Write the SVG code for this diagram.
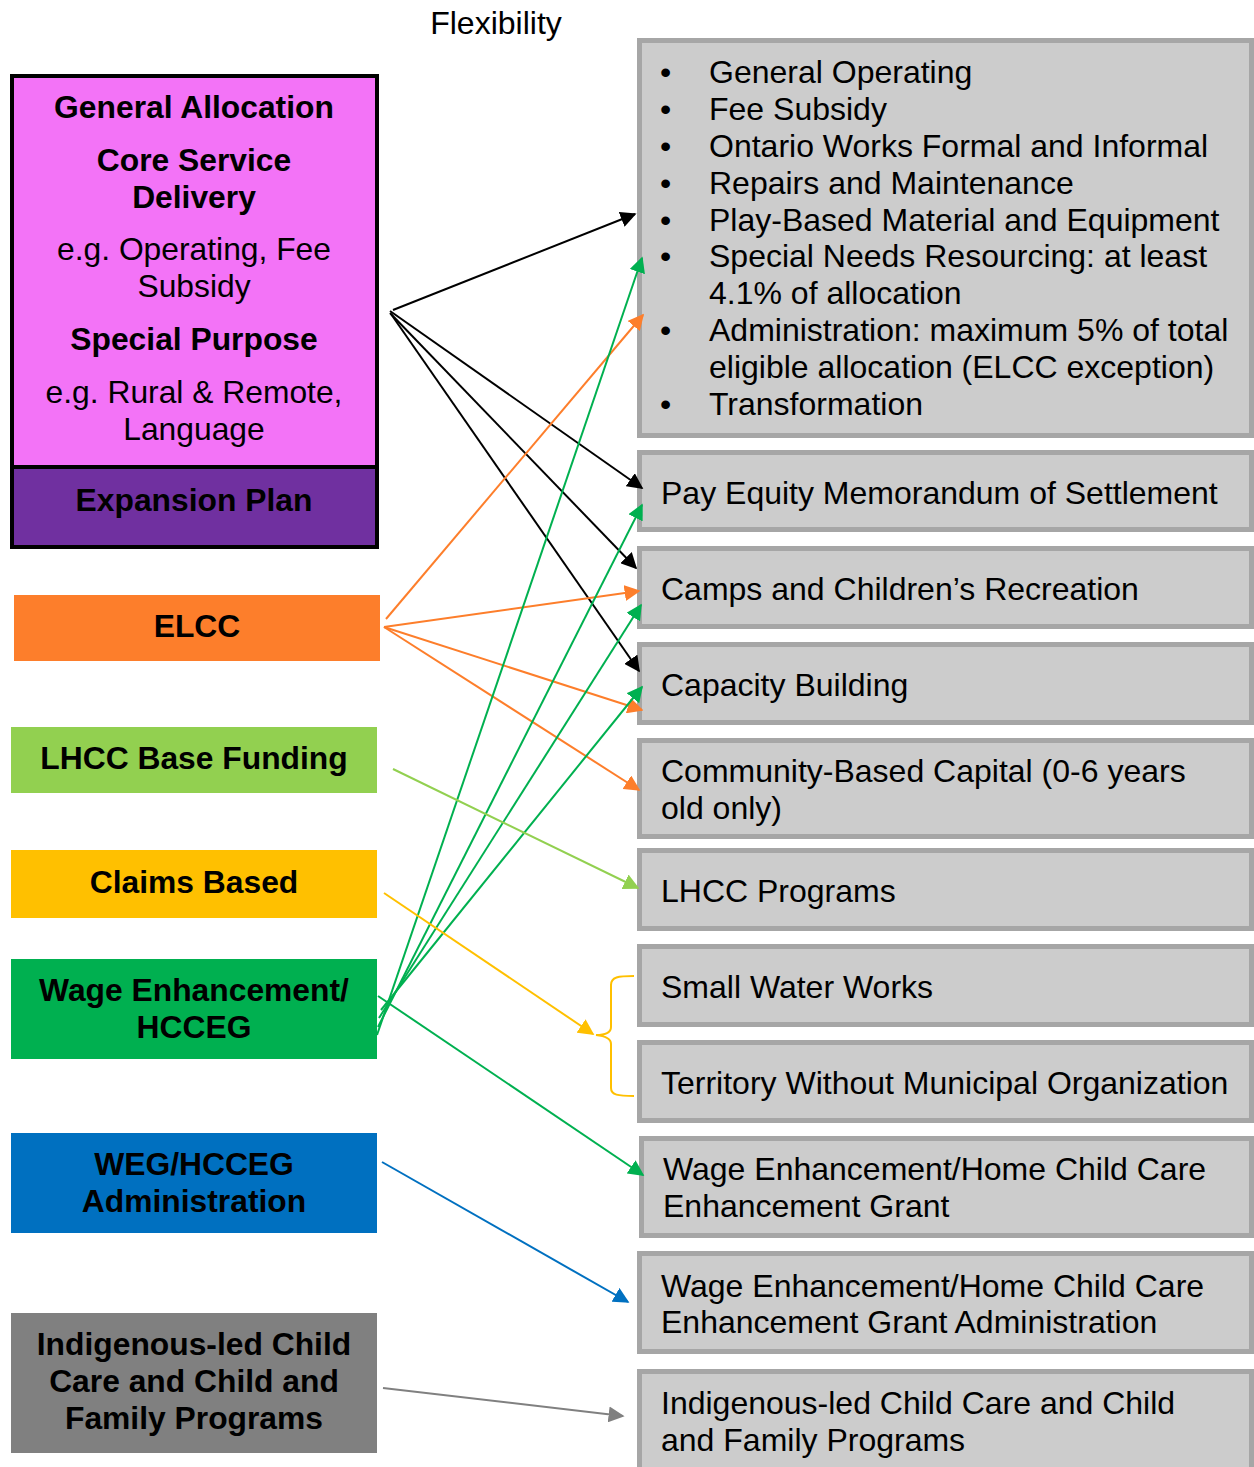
<svg xmlns="http://www.w3.org/2000/svg" width="1254" height="1467" viewBox="0 0 1254 1467">
<defs>
<style>
.b{font-family:"Liberation Sans",Arial,sans-serif;font-weight:bold;font-size:31.8px;fill:#000;text-anchor:middle}
.r{font-family:"Liberation Sans",Arial,sans-serif;font-size:31.8px;fill:#000;text-anchor:middle}
.t{font-family:"Liberation Sans",Arial,sans-serif;font-size:32px;fill:#000}
.box{fill:#cccccc;stroke:#a6a6a6;stroke-width:5}
.c{fill:none;stroke-width:2}
</style>
<marker id="mk" viewBox="0 0 10 10" refX="9" refY="5" markerWidth="8" markerHeight="8" orient="auto"><path d="M0,0 L10,5 L0,10 Z" fill="#000"/></marker>
<marker id="mo" viewBox="0 0 10 10" refX="9" refY="5" markerWidth="8" markerHeight="8" orient="auto"><path d="M0,0 L10,5 L0,10 Z" fill="#fd7e2b"/></marker>
<marker id="mg" viewBox="0 0 10 10" refX="9" refY="5" markerWidth="8" markerHeight="8" orient="auto"><path d="M0,0 L10,5 L0,10 Z" fill="#00b050"/></marker>
<marker id="ml" viewBox="0 0 10 10" refX="9" refY="5" markerWidth="8" markerHeight="8" orient="auto"><path d="M0,0 L10,5 L0,10 Z" fill="#92d050"/></marker>
<marker id="my" viewBox="0 0 10 10" refX="9" refY="5" markerWidth="8" markerHeight="8" orient="auto"><path d="M0,0 L10,5 L0,10 Z" fill="#ffc000"/></marker>
<marker id="mb" viewBox="0 0 10 10" refX="9" refY="5" markerWidth="8" markerHeight="8" orient="auto"><path d="M0,0 L10,5 L0,10 Z" fill="#0070c0"/></marker>
<marker id="mgr" viewBox="0 0 10 10" refX="9" refY="5" markerWidth="8" markerHeight="8" orient="auto"><path d="M0,0 L10,5 L0,10 Z" fill="#808080"/></marker>
</defs>
<rect width="1254" height="1467" fill="#fff"/>
<text x="496" y="34" font-family="Liberation Sans, Arial, sans-serif" font-size="32" text-anchor="middle">Flexibility</text>

<g id="general-allocation">
<rect x="12" y="76" width="365" height="391" fill="#f373f7" stroke="#000" stroke-width="4"/>
<text class="b" x="194" y="118">General Allocation</text>
<text class="b" x="194" y="171">Core Service</text>
<text class="b" x="194" y="208">Delivery</text>
<text class="r" x="194" y="260">e.g. Operating, Fee</text>
<text class="r" x="194" y="297">Subsidy</text>
<text class="b" x="194" y="350">Special Purpose</text>
<text class="r" x="194" y="403">e.g. Rural &amp; Remote,</text>
<text class="r" x="194" y="440">Language</text>
</g>
<g id="expansion-plan">
<rect x="12" y="467" width="365" height="80" fill="#7030a0" stroke="#000" stroke-width="4"/>
<text class="b" x="194" y="511">Expansion Plan</text>
</g>
<g id="elcc">
<rect x="14" y="595" width="366" height="66" fill="#fd7e2b"/>
<text class="b" x="197" y="637">ELCC</text>
</g>
<g id="lhcc-base">
<rect x="11" y="727" width="366" height="66" fill="#92d050"/>
<text class="b" x="194" y="769">LHCC Base Funding</text>
</g>
<g id="claims">
<rect x="11" y="850" width="366" height="68" fill="#ffc000"/>
<text class="b" x="194" y="893">Claims Based</text>
</g>
<g id="wage-enh">
<rect x="11" y="959" width="366" height="100" fill="#00b050"/>
<text class="b" x="194" y="1001">Wage Enhancement/</text>
<text class="b" x="194" y="1038">HCCEG</text>
</g>
<g id="weg-admin">
<rect x="11" y="1133" width="366" height="100" fill="#0070c0"/>
<text class="b" x="194" y="1175">WEG/HCCEG</text>
<text class="b" x="194" y="1212">Administration</text>
</g>
<g id="indigenous">
<rect x="11" y="1313" width="366" height="140" fill="#808080"/>
<text class="b" x="194" y="1355">Indigenous-led Child</text>
<text class="b" x="194" y="1392">Care and Child and</text>
<text class="b" x="194" y="1429">Family Programs</text>
</g>

<g id="flexible-list">
<rect class="box" x="639.5" y="40.5" width="612" height="395"/>
<g class="t">
<text x="660" y="83">•</text><text x="709" y="83">General Operating</text>
<text x="660" y="120">•</text><text x="709" y="120">Fee Subsidy</text>
<text x="660" y="157">•</text><text x="709" y="157">Ontario Works Formal and Informal</text>
<text x="660" y="194">•</text><text x="709" y="194">Repairs and Maintenance</text>
<text x="660" y="231">•</text><text x="709" y="231">Play-Based Material and Equipment</text>
<text x="660" y="267">•</text><text x="709" y="267">Special Needs Resourcing: at least</text>
<text x="709" y="304">4.1% of allocation</text>
<text x="660" y="341">•</text><text x="709" y="341">Administration: maximum 5% of total</text>
<text x="709" y="378">eligible allocation (ELCC exception)</text>
<text x="660" y="415">•</text><text x="709" y="415">Transformation</text>
</g>
</g>
<g id="pay-equity">
<rect class="box" x="639.5" y="452.5" width="612" height="77"/>
<text class="t" x="661" y="504">Pay Equity Memorandum of Settlement</text>
</g>
<g id="camps">
<rect class="box" x="639.5" y="548.5" width="612" height="78"/>
<text class="t" x="661" y="600">Camps and Children’s Recreation</text>
</g>
<g id="capacity">
<rect class="box" x="639.5" y="644.5" width="612" height="78"/>
<text class="t" x="661" y="696">Capacity Building</text>
</g>
<g id="community-capital">
<rect class="box" x="639.5" y="740.5" width="612" height="96"/>
<text class="t" x="661" y="782">Community-Based Capital (0-6 years</text>
<text class="t" x="661" y="819">old only)</text>
</g>
<g id="lhcc-programs">
<rect class="box" x="639.5" y="850.5" width="612" height="78"/>
<text class="t" x="661" y="902">LHCC Programs</text>
</g>
<g id="small-water">
<rect class="box" x="639.5" y="946.5" width="612" height="78"/>
<text class="t" x="661" y="998">Small Water Works</text>
</g>
<g id="territory">
<rect class="box" x="639.5" y="1042.5" width="612" height="78"/>
<text class="t" x="661" y="1094">Territory Without Municipal Organization</text>
</g>
<g id="wage-grant">
<rect class="box" x="641.5" y="1138.5" width="610" height="97"/>
<text class="t" x="663" y="1180">Wage Enhancement/Home Child Care</text>
<text class="t" x="663" y="1217">Enhancement Grant</text>
</g>
<g id="wage-grant-admin">
<rect class="box" x="639.5" y="1253.5" width="612" height="98"/>
<text class="t" x="661" y="1297">Wage Enhancement/Home Child Care</text>
<text class="t" x="661" y="1333">Enhancement Grant Administration</text>
</g>
<g id="indigenous-programs">
<rect class="box" x="639.5" y="1371.5" width="612" height="100"/>
<text class="t" x="661" y="1414">Indigenous-led Child Care and Child</text>
<text class="t" x="661" y="1451">and Family Programs</text>
</g>

<g id="connectors">
<g stroke="#000" class="c" marker-end="url(#mk)">
<line x1="393" y1="310" x2="635" y2="214"/>
<line x1="390" y1="311" x2="642" y2="488"/>
<line x1="390" y1="313" x2="636" y2="568"/>
<line x1="391" y1="314" x2="639" y2="671"/>
</g>
<g stroke="#fd7e2b" class="c" marker-end="url(#mo)">
<line x1="386" y1="619" x2="643" y2="315"/>
<line x1="384" y1="627" x2="639" y2="591"/>
<line x1="384" y1="627" x2="642" y2="710"/>
<line x1="384" y1="627" x2="639" y2="790"/>
</g>
<g stroke="#00b050" class="c" marker-end="url(#mg)">
<line x1="377" y1="1035" x2="642" y2="258"/>
<line x1="378" y1="1027" x2="642" y2="505"/>
<line x1="379" y1="1018" x2="641" y2="605"/>
<line x1="381" y1="1010" x2="642" y2="687"/>
<line x1="378" y1="996" x2="643" y2="1175"/>
</g>
<line x1="393" y1="769" x2="638" y2="888" stroke="#92d050" class="c" marker-end="url(#ml)"/>
<line x1="384" y1="893" x2="593" y2="1034" stroke="#ffc000" class="c" marker-end="url(#my)"/>
<path d="M634,976 C618,976 611,977 611,985 L611,1027 C611,1033 605,1035 596,1035 C605,1036 611,1038 611,1044 L611,1088 C611,1095 618,1096 634,1096" stroke="#ffc000" class="c"/>
<line x1="382" y1="1162" x2="628" y2="1302" stroke="#0070c0" class="c" marker-end="url(#mb)"/>
<line x1="383" y1="1388" x2="623" y2="1416" stroke="#808080" class="c" marker-end="url(#mgr)"/>
</g>
</svg>
